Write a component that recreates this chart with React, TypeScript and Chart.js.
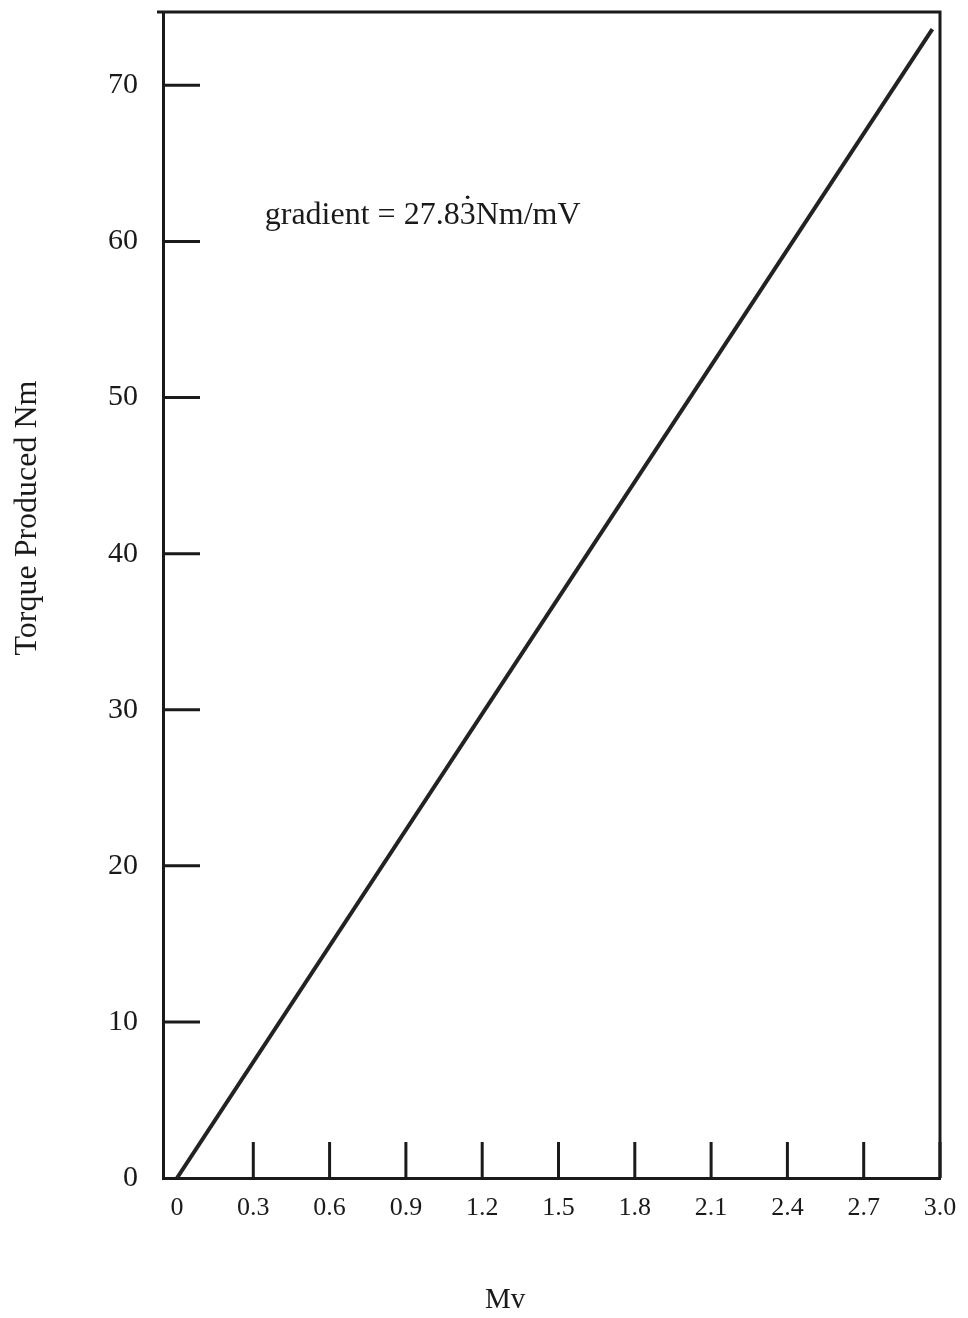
import React, { useEffect, useRef } from "react";
import { Chart, registerables } from "chart.js";

Chart.register(...registerables);

const FONT = '"Liberation Serif", "Times New Roman", Times, serif';
const INK = "#1a1a1a";

// Data
const xTickValues = [0, 0.3, 0.6, 0.9, 1.2, 1.5, 1.8, 2.1, 2.4, 2.7, 3.0];
const yTickValues = [0, 10, 20, 30, 40, 50, 60, 70];
const lineX = [0, 2.97];
const lineY = [0, 73.6];
const xAxisTitle = "Mv";
const yAxisTitle = "Torque Produced Nm";
const annotationText = "gradient = 27.83Nm/mV";
const annotationAt = [0.345, 61.1];

const framePlugin = {
  id: "frame",
  afterDatasetsDraw(chart: any) {
    const { ctx, chartArea } = chart;
    const { left, right, top, bottom } = chartArea;
    const xs = chart.scales.x;
    const ys = chart.scales.y;
    ctx.save();
    ctx.strokeStyle = INK;
    ctx.lineWidth = 3;
    ctx.lineCap = "butt";
    // top + right border
    ctx.beginPath();
    ctx.moveTo(left - 6, top);
    ctx.lineTo(right, top);
    ctx.lineTo(right, bottom);
    ctx.stroke();
    // inner y ticks
    yTickValues.forEach((v) => {
      if (v === 0) return;
      const py = ys.getPixelForValue(v);
      ctx.beginPath();
      ctx.moveTo(left, py);
      ctx.lineTo(left + 37, py);
      ctx.stroke();
    });
    // inner x ticks
    xTickValues.forEach((v) => {
      if (v === 0) return;
      const px = xs.getPixelForValue(v);
      ctx.beginPath();
      ctx.moveTo(px, bottom);
      ctx.lineTo(px, bottom - 36);
      ctx.stroke();
    });
    // annotation
    ctx.fillStyle = INK;
    ctx.font = `32px ${FONT}`;
    ctx.textAlign = "left";
    ctx.textBaseline = "alphabetic";
    const ax = xs.getPixelForValue(annotationAt[0]);
    const ay = ys.getPixelForValue(annotationAt[1]);
    ctx.fillText(annotationText, ax, ay);
    // recurring-decimal dot above the "3"
    const idx = annotationText.indexOf("83") + 1;
    const pre = ctx.measureText(annotationText.slice(0, idx)).width;
    const w3 = ctx.measureText("3").width;
    ctx.beginPath();
    ctx.arc(ax + pre + w3 / 2, ay - 27, 1.8, 0, Math.PI * 2);
    ctx.fill();
    // axis titles
    ctx.font = `29px ${FONT}`;
    ctx.textAlign = "center";
    ctx.textBaseline = "middle";
    ctx.fillText(xAxisTitle, xs.getPixelForValue(1.29), 1300);
    ctx.save();
    ctx.font = `32px ${FONT}`;
    ctx.translate(28, 518);
    ctx.rotate(-Math.PI / 2);
    ctx.fillText(yAxisTitle, 0, 0);
    ctx.restore();
    ctx.restore();
  },
};

export default function App() {
  const ref = useRef<HTMLCanvasElement>(null);
  useEffect(() => {
    const chart = new Chart(ref.current as HTMLCanvasElement, {
      type: "line",
      data: {
        datasets: [
          {
            data: lineX.map((x, i) => ({ x, y: lineY[i] })),
            borderColor: "#222",
            borderWidth: 4,
            pointRadius: 0,
            tension: 0,
          },
        ],
      },
      options: {
        animation: false,
        responsive: false,
        maintainAspectRatio: false,
        layout: { padding: { top: 12, right: 28, left: 0, bottom: 0 } },
        plugins: { legend: { display: false }, tooltip: { enabled: false } },
        scales: {
          x: {
            type: "linear",
            min: -0.055,
            max: 3.0,
            afterBuildTicks: (s: any) => {
              s.ticks = xTickValues.map((v) => ({ value: v }));
            },
            afterFit: (s: any) => {
              s.height = 140;
              s.paddingLeft = 0;
              s.paddingRight = 0;
            },
            ticks: {
              autoSkip: false,
              maxRotation: 0,
              minRotation: 0,
              padding: 15,
              color: INK,
              font: { family: FONT, size: 26 },
              callback: (v: any) => (Number(v) === 0 ? "0" : Number(v).toFixed(1)),
            },
            grid: { drawOnChartArea: false, drawTicks: false },
            border: { display: true, color: INK, width: 3 },
          },
          y: {
            type: "linear",
            min: 0,
            max: 74.7,
            afterBuildTicks: (s: any) => {
              s.ticks = yTickValues.map((v) => ({ value: v }));
            },
            afterFit: (s: any) => {
              s.width = 163;
              s.paddingTop = 0;
              s.paddingBottom = 0;
            },
            ticks: {
              autoSkip: false,
              padding: 25,
              color: INK,
              font: { family: FONT, size: 30 },
              callback: (v: any) => String(v),
            },
            grid: { drawOnChartArea: false, drawTicks: false },
            border: { display: true, color: INK, width: 3 },
          },
        },
      },
      plugins: [framePlugin],
    } as any);
    return () => chart.destroy();
  }, []);
  return (
    <canvas
      ref={ref}
      width={968}
      height={1318}
      style={{ position: "absolute", left: 0, top: 0, display: "block" }}
    />
  );
}
